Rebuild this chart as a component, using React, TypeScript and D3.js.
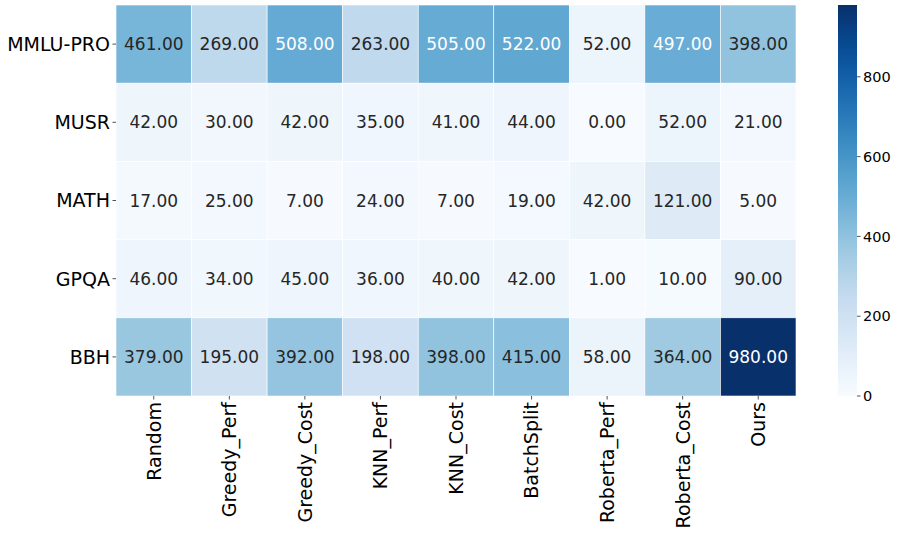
import React from 'react';
import * as d3 from 'd3';

const methods = ['Random', 'Greedy_Perf', 'Greedy_Cost', 'KNN_Perf', 'KNN_Cost', 'BatchSplit', 'Roberta_Perf', 'Roberta_Cost', 'Ours'];
const datasets = ['MMLU-PRO', 'MUSR', 'MATH', 'GPQA', 'BBH'];

const mmluPro = [461, 269, 508, 263, 505, 522, 52, 497, 398];
const musr = [42, 30, 42, 35, 41, 44, 0, 52, 21];
const math = [17, 25, 7, 24, 7, 19, 42, 121, 5];
const gpqa = [46, 34, 45, 36, 40, 42, 1, 10, 90];
const bbh = [379, 195, 392, 198, 398, 415, 58, 364, 980];

const rows = [mmluPro, musr, math, gpqa, bbh];
const cbarTicks = [0, 200, 400, 600, 800];

// matplotlib Blues
const blues = ['#f7fbff', '#deebf7', '#c6dbef', '#9ecae1', '#6baed6', '#4292c6', '#2171b5', '#08519c', '#08306b'];

const FONT = 'DejaVu Sans, sans-serif';

function luminance(c: string) {
  const rgb = d3.rgb(c);
  const f = (v: number) => {
    const x = v / 255;
    return x <= 0.03928 ? x / 12.92 : Math.pow((x + 0.055) / 1.055, 2.4);
  };
  return 0.2126 * f(rgb.r) + 0.7152 * f(rgb.g) + 0.0722 * f(rgb.b);
}

export default function App() {
  const W = 897, H = 537;
  const left = 116, right = 796, top = 5, bottom = 396;

  const vmin = 0;
  const vmax = d3.max(rows.flat()) as number;

  const color = d3.scaleLinear<string>()
    .domain(d3.range(blues.length).map(i => vmin + (vmax - vmin) * i / (blues.length - 1)))
    .range(blues)
    .interpolate(d3.interpolateRgb);

  const x = d3.scaleBand().domain(methods).range([left, right]);
  const y = d3.scaleBand().domain(datasets).range([top, bottom]);

  const cbX = 838, cbW = 19;
  const cbY = d3.scaleLinear().domain([vmin, vmax]).range([bottom, top]);

  const stops = d3.range(0, 1.0001, 0.05);

  return (
    <svg width={W} height={H} style={{ position: 'absolute', left: 0, top: 0, display: 'block' }} fontFamily={FONT}>
      <rect width={W} height={H} fill="#fff" />
      <defs>
        <linearGradient id="cb" x1="0" y1="1" x2="0" y2="0">
          {stops.map(t => (
            <stop key={t} offset={t} stopColor={color(vmin + t * (vmax - vmin))} />
          ))}
        </linearGradient>
      </defs>

      {/* cells */}
      {rows.map((row, ri) => row.map((v, ci) => {
        const c = color(v);
        const tc = luminance(c) > 0.408 ? '#262626' : '#ffffff';
        const cx = (x(methods[ci]) as number);
        const cy = (y(datasets[ri]) as number);
        return (
          <g key={`${ri}-${ci}`}>
            <rect x={cx} y={cy} width={x.bandwidth()} height={y.bandwidth()} fill={c} stroke="#fff" strokeWidth={0.6} />
            <text x={cx + x.bandwidth() / 2} y={cy + y.bandwidth() / 2} dy="0.36em" textAnchor="middle" fontSize={17} fill={tc}>
              {v.toFixed(2)}
            </text>
          </g>
        );
      }))}

      {/* y axis */}
      {datasets.map(d => {
        const cy = (y(d) as number) + y.bandwidth() / 2;
        return (
          <g key={d}>
            <line x1={left - 3.5} x2={left} y1={cy} y2={cy} stroke="#262626" strokeWidth={0.8} />
            <text x={left - 6} y={cy} dy="0.36em" textAnchor="end" fontSize={19} fill="#000">{d}</text>
          </g>
        );
      })}

      {/* x axis */}
      {methods.map(m => {
        const cx = (x(m) as number) + x.bandwidth() / 2;
        return (
          <g key={m}>
            <line x1={cx} x2={cx} y1={bottom} y2={bottom + 3.5} stroke="#262626" strokeWidth={0.8} />
            <text transform={`translate(${cx},${bottom + 6}) rotate(-90)`} dy="0.36em" textAnchor="end" fontSize={19} fill="#000">{m}</text>
          </g>
        );
      })}

      {/* colorbar */}
      <rect x={cbX} y={top} width={cbW} height={bottom - top} fill="url(#cb)" />
      {cbarTicks.map(t => (
        <g key={t}>
          <line x1={cbX + cbW} x2={cbX + cbW + 3.5} y1={cbY(t)} y2={cbY(t)} stroke="#262626" strokeWidth={0.8} />
          <text x={cbX + cbW + 6} y={cbY(t)} dy="0.36em" fontSize={14.5} fill="#000">{t}</text>
        </g>
      ))}
    </svg>
  );
}
